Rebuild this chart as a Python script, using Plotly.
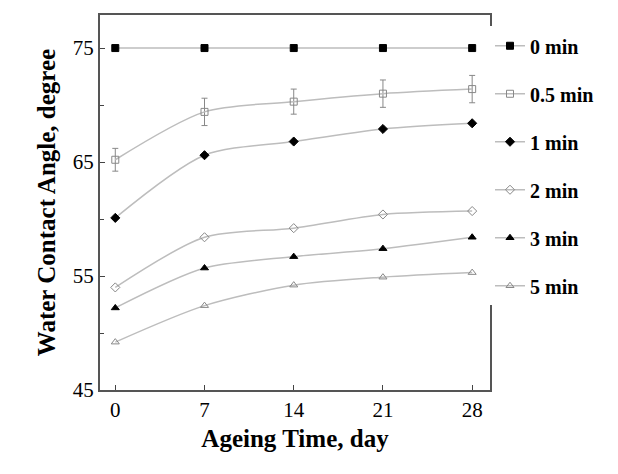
import plotly.graph_objects as go

days = [0, 7, 14, 21, 28]
labels = ["0 min", "0.5 min", "1 min", "2 min", "3 min", "5 min"]
v0 = [75, 75, 75, 75, 75]
v05 = [65.2, 69.4, 70.3, 71.0, 71.4]
v1 = [60.1, 65.6, 66.8, 67.9, 68.4]
v2 = [54.0, 58.4, 59.2, 60.4, 60.7]
v3 = [52.2, 55.7, 56.7, 57.4, 58.4]
v5 = [49.2, 52.4, 54.2, 54.9, 55.3]
err05 = [1.0, 1.2, 1.1, 1.2, 1.2]

series = [v0, v05, v1, v2, v3, v5]
symbols = ["square", "square-open", "diamond", "diamond-open", "triangle-up", "triangle-up-open"]

fig = go.Figure()
for i, (name, ys, sym) in enumerate(zip(labels, series, symbols)):
    col = "black" if "open" not in sym else "#888"
    fig.add_trace(go.Scatter(
        x=days, y=ys, name="<b>" + name + "</b>", mode="lines+markers",
        line=dict(color="#bdbdbd", width=1.5, shape="spline", smoothing=0.8),
        marker=dict(symbol=sym, size=7, color=col, line=dict(color=col, width=1)),
        error_y=dict(type="data", array=err05, color="#888", width=3, thickness=1) if i == 1 else None,
        legendgroup=str(i),
    ))

font = dict(family="Liberation Serif", size=21, color="black")
fig.update_layout(
    width=618, height=474, plot_bgcolor="white", paper_bgcolor="white",
    margin=dict(l=92, r=136, t=7, b=92, autoexpand=False),
    font=font,
    legend=dict(x=1.0, y=0.97, yanchor="top", tracegroupgap=19, itemwidth=30,
                font=dict(family="Liberation Serif", size=20, color="black")),
    xaxis=dict(range=[-1.2, 29.4], tickvals=days, showline=True, linecolor="#555", linewidth=2,
               mirror=True, ticks="inside", ticklen=5, showgrid=False, zeroline=False,
               automargin=False,
               title=dict(text="<b>Ageing Time, day</b>", standoff=8),
               tickfont=font, tickprefix="<b>", ticksuffix="</b>"),
    yaxis=dict(range=[45, 77.9], tickvals=[45, 55, 65, 75], showline=True, linecolor="#555", linewidth=2,
               mirror=True, ticks="inside", ticklen=5, showgrid=False, zeroline=False,
               automargin=False,
               minor=dict(tickvals=[50, 60, 70], ticks="inside", ticklen=4),
               title=dict(text="<b>Water Contact Angle, degree</b>", standoff=10),
               tickfont=font, tickprefix="<b>", ticksuffix="</b>"),
)
fig.write_html("out.html")
